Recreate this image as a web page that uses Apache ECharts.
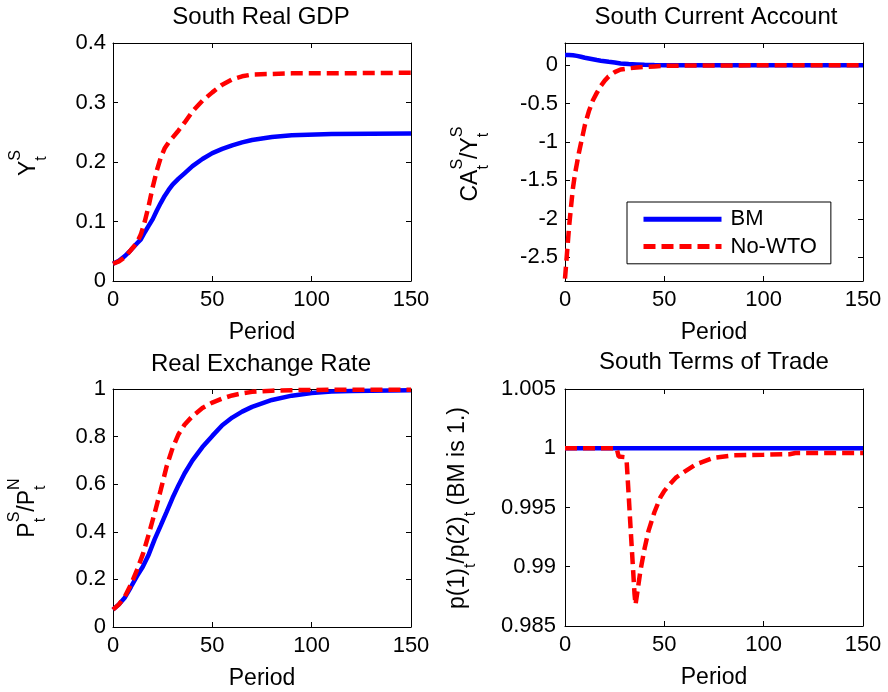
<!DOCTYPE html>
<html>
<head>
<meta charset="utf-8">
<script src="https://cdn.jsdelivr.net/npm/echarts@6/dist/echarts.min.js"></script>
<style>
html,body{margin:0;padding:0;background:#fff;}
#chart{width:888px;height:692px;}
</style>
</head>
<body>
<div id="chart"></div>
<script>
// ---------- data ----------
const seriesNames = ['BM', 'No-WTO'];
const xTicks = [0, 50, 100, 150];

// South Real GDP
const gdpPeriods = [0,3,6,9,12,14,16,18,20,22,24,26,28,30,33,36,40,45,50,55,60,65,70,80,90,110,150];
const gdpBM      = [0.029,0.034,0.042,0.052,0.063,0.070,0.082,0.093,0.104,0.118,0.131,0.143,0.153,0.162,0.172,0.181,0.193,0.205,0.215,0.222,0.228,0.233,0.237,0.242,0.245,0.247,0.248];
const gdpNoWTO   = [0.029,0.033,0.040,0.052,0.064,0.078,0.100,0.127,0.158,0.185,0.207,0.223,0.233,0.241,0.253,0.266,0.285,0.303,0.317,0.330,0.339,0.344,0.347,0.348,0.349,0.349,0.350];
const gdpTicks = [0, 0.1, 0.2, 0.3, 0.4];

// South Current Account
const caPeriods = [0,1,2,3,4,5,6,7,8,9,10,12,14,16,18,20,22,25,28,32,36,40,45,50,60,80,100,150];
const caBM      = [0.135,0.135,0.134,0.132,0.130,0.127,0.122,0.117,0.111,0.104,0.098,0.088,0.078,0.068,0.060,0.053,0.045,0.035,0.024,0.016,0.011,0.006,0.002,0.000,0,0,0,0];
const caNoWTO   = [-2.78,-2.45,-2.12,-1.85,-1.60,-1.42,-1.28,-1.14,-1.02,-0.90,-0.78,-0.60,-0.46,-0.36,-0.27,-0.20,-0.145,-0.09,-0.056,-0.04,-0.03,-0.022,-0.015,-0.008,-0.004,-0.002,-0.001,-0.001];
const caTicks = [-2.5, -2, -1.5, -1, -0.5, 0];

// Real Exchange Rate
const rerPeriods = [0,3,6,9,12,15,18,21,24,27,30,33,36,40,45,50,55,60,65,70,80,90,100,110,120,150];
const rerBM      = [0.073,0.095,0.124,0.168,0.213,0.253,0.305,0.369,0.426,0.484,0.543,0.596,0.645,0.700,0.756,0.803,0.848,0.880,0.905,0.925,0.954,0.972,0.983,0.989,0.992,0.995];
const rerNoWTO   = [0.073,0.095,0.128,0.178,0.238,0.305,0.390,0.480,0.575,0.675,0.752,0.810,0.850,0.886,0.920,0.943,0.960,0.973,0.982,0.988,0.993,0.995,0.996,0.997,0.997,0.997];
const rerTicks = [0, 0.2, 0.4, 0.6, 0.8, 1];

// South Terms of Trade
const totBMPeriods = [0, 50, 100, 150];
const totBM        = [1, 1, 1, 1];
const totPeriods = [0,10,20,26,27,30,31,32,33,34,35,35.5,37,38,40,42,45,48,50,53,56,60,66,75,85,100,113,116,150];
const totNoWTO   = [1,1,1,1,0.9993,0.99925,0.9990,0.9962,0.9933,0.9905,0.9877,0.9868,0.98853,0.9897,0.9915,0.9930,0.9946,0.99585,0.9964,0.9970,0.99755,0.9980,0.99865,0.9992,0.9994,0.99945,0.9995,0.9996,0.9996];
const totTicks = [0.985, 0.99, 0.995, 1, 1.005];

// ---------- helpers ----------
const FF = '"Liberation Sans", Arial, Helvetica, sans-serif';
const zip = (xs, ys) => xs.map((x, i) => [x, ys[i]]);
const fmt = v => String(parseFloat(Number(v).toFixed(6)));

const grids = [
  {left: 113, top: 43,  width: 298, height: 238},
  {left: 565, top: 43,  width: 298, height: 238},
  {left: 113, top: 389, width: 298, height: 238},
  {left: 565, top: 389, width: 298, height: 237}
];
const yRanges = [
  {min: 0, max: 0.4, ticks: gdpTicks, margin: 7},
  {min: -2.81, max: 0.29, ticks: caTicks, margin: 7},
  {min: 0, max: 1, ticks: rerTicks, margin: 7},
  {min: 0.985, max: 1.005, ticks: totTicks, margin: 9}
];

const xAxes = [], yAxes = [];
grids.forEach((g, gi) => {
  [false, true].forEach(top => {
    xAxes.push({
      type: 'value', gridIndex: gi, min: 0, max: 150,
      position: top ? 'top' : 'bottom',
      axisLine: {show: true, onZero: false, lineStyle: {color: '#000', width: 1}},
      axisTick: {show: true, inside: true, length: 5, customValues: xTicks, lineStyle: {color: '#000'}},
      axisLabel: {show: !top, customValues: xTicks, margin: 8, fontSize: 22, color: '#000', fontFamily: FF},
      splitLine: {show: false},
      name: top ? '' : 'Period', nameLocation: 'middle', nameGap: 40,
      nameTextStyle: {fontSize: 23, color: '#000', fontFamily: FF}
    });
  });
  const r = yRanges[gi];
  [false, true].forEach(right => {
    yAxes.push({
      type: 'value', gridIndex: gi, min: r.min, max: r.max,
      position: right ? 'right' : 'left',
      axisLine: {show: true, onZero: false, lineStyle: {color: '#000', width: 1}},
      axisTick: {show: true, inside: true, length: 5, customValues: r.ticks, lineStyle: {color: '#000'}},
      axisLabel: {show: !right, customValues: r.ticks, margin: r.margin, fontSize: 22, color: '#000', fontFamily: FF, formatter: fmt},
      splitLine: {show: false}
    });
  });
});

const panelData = [
  [zip(gdpPeriods, gdpBM), zip(gdpPeriods, gdpNoWTO)],
  [zip(caPeriods, caBM), zip(caPeriods, caNoWTO)],
  [zip(rerPeriods, rerBM), zip(rerPeriods, rerNoWTO)],
  [zip(totBMPeriods, totBM), zip(totPeriods, totNoWTO)]
];
const series = [];
panelData.forEach((pair, gi) => {
  series.push({
    name: seriesNames[0], type: 'line', xAxisIndex: gi * 2, yAxisIndex: gi * 2,
    data: pair[0], symbol: 'none', silent: true, animation: false, clip: true,
    lineStyle: {color: '#0000ff', width: 4.5, type: 'solid'}, itemStyle: {color: '#0000ff'}
  });
  series.push({
    name: seriesNames[1], type: 'line', xAxisIndex: gi * 2, yAxisIndex: gi * 2,
    data: pair[1], symbol: 'none', silent: true, animation: false, clip: true,
    lineStyle: {color: '#ff0000', width: 4.5, type: [12, 6], cap: 'butt'}, itemStyle: {color: '#ff0000'}
  });
});

// rotated y-axis labels with stacked super/subscripts
const mctx = document.createElement('canvas').getContext('2d');
function tw(s, size) { mctx.font = size + 'px ' + FF; return mctx.measureText(s).width; }
function vlabel(baseX, centerY, parts, main, small) {
  const items = []; let pos = 0;
  parts.forEach(p => {
    if (typeof p === 'string') {
      items.push({t: p, size: main, dx: pos, dy: 0}); pos += tw(p, main);
    } else {
      let w = 0;
      if (p.sup) { items.push({t: p.sup, size: small, dx: pos, dy: -0.68 * main}); w = Math.max(w, tw(p.sup, small)); }
      if (p.sub) { items.push({t: p.sub, size: small, dx: pos, dy: 0.45 * main}); w = Math.max(w, tw(p.sub, small)); }
      pos += w;
    }
  });
  const y0 = centerY + pos / 2;
  return items.map(it => ({
    type: 'text', x: baseX + it.dy - 0.35 * it.size, y: y0 - it.dx, rotation: Math.PI / 2, silent: true,
    style: {text: it.t, fontSize: it.size, fontFamily: FF, fill: '#000', textAlign: 'left', textVerticalAlign: 'middle'}
  }));
}
function title(text, cx, cy) {
  return {type: 'text', x: cx, y: cy, silent: true,
    style: {text, fontSize: 24, fontFamily: FF, fill: '#000', textAlign: 'center', textVerticalAlign: 'middle'}};
}

const graphics = [
  title('South Real GDP', 261, 17),
  title('South Current Account', 716, 17),
  title('Real Exchange Rate', 261, 364),
  title('South Terms of Trade', 714, 362),
  ...vlabel(37, 163, ['Y', {sup: 'S', sub: 't'}], 23, 16),
  ...vlabel(479, 164, ['CA', {sup: 'S', sub: 't'}, '/Y', {sup: 'S', sub: 't'}], 23, 16),
  ...vlabel(36, 508, ['P', {sup: 'S', sub: 't'}, '/P', {sup: 'N', sub: 't'}], 23, 16),
  ...vlabel(466, 508, ['p(1)', {sub: 't'}, '/p(2)', {sub: 't'}, ' (BM is 1.)'], 23, 16)
];

const chart = echarts.init(document.getElementById('chart'), null, {renderer: 'canvas'});
chart.setOption({
  animation: false,
  backgroundColor: '#fff',
  grid: grids.map(g => Object.assign({containLabel: false, show: false}, g)),
  xAxis: xAxes,
  yAxis: yAxes,
  legend: {
    data: seriesNames, orient: 'vertical', left: 627, top: 202,
    padding: [6, 14, 6, 14], itemWidth: 78, itemHeight: 28, itemGap: 5,
    borderColor: '#000', borderWidth: 1, backgroundColor: '#fff', borderRadius: 0,
    selectedMode: false,
    itemStyle: {opacity: 0, borderWidth: 0},
    lineStyle: {width: 5, opacity: 1},
    textStyle: {fontSize: 22, color: '#000', fontFamily: FF, padding: [0, 0, 0, 4]}
  },
  series: series,
  graphic: graphics
});
</script>
</body>
</html>
